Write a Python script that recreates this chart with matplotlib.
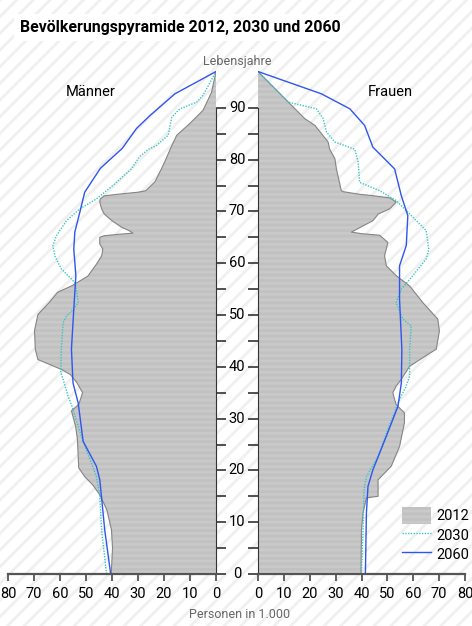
import numpy as np
import matplotlib
matplotlib.use("Agg")
import matplotlib.pyplot as plt
from matplotlib.patches import Rectangle
from matplotlib.lines import Line2D
from matplotlib.patches import Patch
from matplotlib.transforms import blended_transform_factory

plt.rcParams['hatch.linewidth'] = 2.0
narrow = ['Roboto', 'DejaVu Sans']

# Männer 2012 (grey area): age, thousands
m12_age = [0, 5, 8.5, 12.4, 15.3, 17.2, 18.8, 20.5, 26, 28.5, 31.5, 32.7, 35, 37, 38.5, 39.5,
           41.4, 43.4, 47, 50.1, 52.5, 54.4, 55.6, 57.5, 59.8, 61.4, 62.7, 63.7, 65, 65.3,
           65.6, 65.8, 66.3, 67, 68.2, 69.5, 70.5, 71.8, 72.4, 73, 73.3, 73.7, 74, 75.7, 78.2,
           79.6, 82.7, 84.7, 87, 89.5, 93, 97]
m12_val = [40.3, 39.8, 40.2, 42, 44.7, 47.4, 50.5, 52.8, 53.3, 54, 55.6, 52.8, 51.3, 53.6, 56, 59.5,
           68.5, 69.5, 69.8, 68.5, 64, 60.9, 55.6, 49.3, 46, 44, 43.5, 44.7, 44.7, 43,
           37, 31.9, 33.5, 36.5, 40, 43, 44, 44.7, 44.5, 43, 38, 30, 27, 23.5, 21,
           19.7, 17, 15.1, 10, 5, 1.7, 0]

# Männer 2030
m30_age = [0, 8.5, 15, 18.8, 26.6, 32.7, 34.3, 37.6, 38.9, 43.4, 48.5, 49.8, 51, 52.4, 55,
           56.3, 58.9, 61.4, 63.4, 65.3, 68.2, 70.5, 72.4, 75, 78.2, 80.5, 82, 82.7, 84.7,
           88.2, 89.8, 91.1, 92.4, 97]
m30_val = [42.1, 44, 44.7, 46, 51.8, 55.6, 56.9, 58.8, 59.7, 59.5, 58.8, 57.5, 55, 53, 53.7,
           54.3, 59.5, 62, 62.7, 61.4, 57.5, 52.4, 46, 39.7, 32.5, 29.5, 26, 22.9, 18.4,
           17, 13.9, 7.4, 5, 0]

# Männer 2060
m60_age = [0, 8.5, 14.7, 18.2, 20.8, 25.6, 33, 36.9, 43.4, 51.1, 57.6, 62.7, 66, 69.8, 73.7,
           78.3, 82.2, 86, 88.5, 92.7, 97]
m60_val = [40.5, 42.8, 44, 44.7, 46, 51.1, 53, 55, 55.6, 54.7, 53.9, 54.7, 54.3, 52.4, 50.5,
           44.5, 36, 30.6, 25.4, 15.8, 0]

# Frauen 2012 (grey area)
f12_age = [0, 8.5, 11.8, 14.7, 15.0, 18.2, 20.8, 24.6, 29.2, 31.1, 32.7, 33.7, 35, 36.3, 37.6,
           40.1, 42.6, 43.4, 46.9, 49.2, 52.4, 55.6, 57.6, 59.5, 61.4, 64, 65.4, 65.7, 66,
           67.2, 68.2, 69.5, 70.5, 71.8, 72.6, 73, 73.3, 73.8, 74, 78.2, 80.2, 82, 83.4, 86.6,
           87.9, 91.1, 97]
f12_val = [39.8, 40, 40.6, 41.9, 46.4, 46.4, 51.5, 54.7, 56.6, 56.6, 53.4, 52.8, 52.1, 53.4, 55.4,
           58.6, 66.3, 68.9, 70.1, 69.5, 63.7, 58.6, 53.4, 49.6, 48.9, 50.2, 47, 40, 36.1,
           40.6, 44.4, 46.5, 50.9, 53.4, 51, 45, 39.3, 33, 32.2, 30.3, 29.7, 27.7, 27.1, 22,
           18.1, 11.7, 0]

# Frauen 2030
f30_age = [0, 8.5, 16.3, 18.8, 22.7, 27.9, 33.7, 36, 38.2, 43.4, 47.9, 49.2, 52.4, 55, 57.6,
           60.8, 62.7, 66.3, 69.5, 72.1, 74, 75.6, 79.5, 82, 83.4, 85.3, 87.9, 89.8, 91.1, 97]
f30_val = [40, 40.6, 41, 41.9, 46.4, 50.2, 54.7, 57, 58.6, 58.6, 59.2, 56, 53.4, 55.4, 59.8,
           65, 66, 65, 58.6, 53.4, 47, 39.3, 38.7, 37.4, 29.7, 26.5, 25.2, 22.6, 11.7, 0]

# Frauen 2060
f60_age = [0, 11.8, 16.9, 20.1, 26.6, 32.4, 36.9, 43.4, 53, 59.5, 63.4, 69.2, 73, 78.2, 82.4,
           86.6, 89.8, 92.7, 97]
f60_val = [41.5, 41.9, 42.5, 44.4, 49.6, 54.1, 55.4, 55.6, 54.7, 54.7, 57.3, 57.9, 55.4, 52.8, 44.4,
           41.2, 35.5, 24.5, 0]

x_ticks = [0, 10, 20, 30, 40, 50, 60, 70, 80]
age_labels = [0, 10, 20, 30, 40, 50, 60, 70, 80, 90]

W, H = 472, 626
fig = plt.figure(figsize=(W / 100, H / 100), dpi=100)

# hatched background
fig.patches.append(Rectangle((0, 0), 1, 1, transform=fig.transFigure, facecolor='white',
                             edgecolor='#f0f0f0', hatch='//', lw=0, zorder=-10))
fig.patches.append(Rectangle((14 / W, 1 - 41 / H), 328 / W, 27 / H, transform=fig.transFigure,
                             facecolor='white', edgecolor='none', zorder=-5))
fig.text(20 / W, 1 - 27.5 / H, 'Bevölkerungspyramide 2012, 2030 und 2060', family=narrow,
         fontweight='bold', fontsize=11.4, va='center', ha='left')

axL = fig.add_axes([8 / W, 52 / H, 208 / W, 518 / H])
axR = fig.add_axes([258 / W, 52 / H, 207 / W, 518 / H])

grey = '#c9c9c9'
for ax, a12, v12, a30, v30, a60, v60 in [(axL, m12_age, m12_val, m30_age, m30_val, m60_age, m60_val),
                                         (axR, f12_age, f12_val, f30_age, f30_val, f60_age, f60_val)]:
    ax.set_facecolor('none')
    ax.fill_betweenx(a12, 0, v12, facecolor=grey, edgecolor='#c1c1c1', hatch='---', lw=0)
    ax.plot(v12, a12, color='#858585', lw=0.8)
    ax.plot(v30, a30, color='#3cc4c4', lw=1.0, ls=(0, (1, 1)))
    ax.plot(v60, a60, color='#2f55f0', lw=1.0)
    ax.set_ylim(0, 100)
    ax.set_xticks(x_ticks)
    ax.set_yticks(np.arange(0, 95, 5))
    ax.spines['top'].set_visible(False)
    ax.spines['bottom'].set_color('#555555')
    ax.spines['bottom'].set_linewidth(1.6)
    ax.tick_params(axis='x', direction='out', length=5, width=1.3, color='#555555',
                   labelsize=10.5, pad=4)
    ax.tick_params(axis='y', direction='out', length=7.5, width=1.2, color='#333333',
                   labelleft=False, labelright=False)
    for lab in ax.get_xticklabels():
        lab.set_family(narrow)

axL.set_xlim(80, 0)
axR.set_xlim(0, 80)
axL.spines['left'].set_visible(False)
axL.yaxis.tick_right()
axL.spines['right'].set_bounds(0, 90)
axL.spines['right'].set_color('#333333')
axR.spines['right'].set_visible(False)
axR.spines['left'].set_bounds(0, 90)
axR.spines['left'].set_color('#333333')

# age labels in the centre column
tr = blended_transform_factory(fig.transFigure, axL.transData)
for a in age_labels:
    axL.text(237 / W, a, str(a), transform=tr, ha='center', va='center', fontsize=10.5,
             family=narrow, clip_on=False)

fig.text(237 / W, 1 - 61 / H, 'Lebensjahre', family=narrow, fontsize=9, color='#666666',
         ha='center', va='center')
fig.text(240 / W, 1 - 614 / H, 'Personen in 1.000', family=narrow, fontsize=9,
         color='#666666', ha='center', va='center')
fig.text(91 / W, 1 - 92 / H, 'Männer', family=narrow, fontsize=10.5, ha='center', va='center')
fig.text(390 / W, 1 - 92 / H, 'Frauen', family=narrow, fontsize=10.5, ha='center', va='center')

handles = [Patch(facecolor=grey, edgecolor='#c1c1c1', hatch='---', lw=0),
           Line2D([], [], color='#3cc4c4', lw=1.0, ls=(0, (1, 1))),
           Line2D([], [], color='#2f55f0', lw=1.0)]
fig.legend(handles, ['2012', '2030', '2060'], loc='upper left',
           bbox_to_anchor=(392 / W, 1 - 497 / H), frameon=False,
           prop={'family': narrow, 'size': 10.5}, handlelength=2.0, handleheight=1.4,
           labelspacing=0.15, handletextpad=0.35, borderpad=0.2)

fig.savefig('out.png', dpi=100)
